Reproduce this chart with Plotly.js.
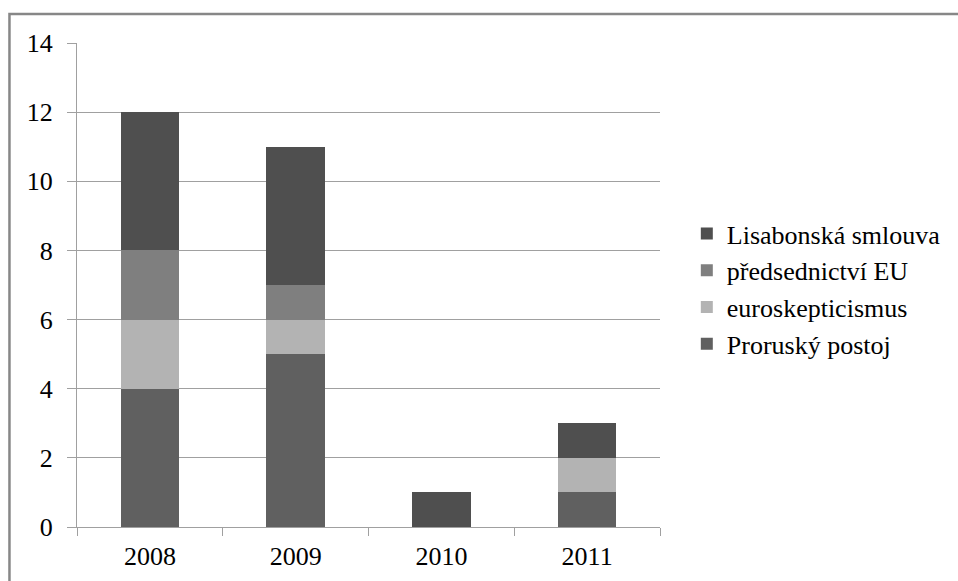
<!DOCTYPE html>
<html>
<head>
<meta charset="utf-8">
<script src="https://cdn.plot.ly/plotly-3.0.1.min.js"></script>
<style>
html,body{margin:0;padding:0;background:#fff;}
#chart{width:958px;height:581px;}
</style>
</head>
<body>
<div id="chart"></div>
<script>
const years = ['2008', '2009', '2010', '2011'];
const seriesNames = ['Proruský postoj', 'euroskepticismus', 'předsednictví EU', 'Lisabonská smlouva'];
const prorusky = [4, 5, 0, 1];
const euroskepticismus = [2, 1, 0, 1];
const predsednictvi = [2, 1, 0, 0];
const lisabonska = [4, 4, 1, 1];
const yTicks = [0, 2, 4, 6, 8, 10, 12, 14];

const colors = ['#606060', '#b3b3b3', '#7f7f7f', '#4f4f4f'];
const values = [prorusky, euroskepticismus, predsednictvi, lisabonska];

const traces = values.map((v, i) => ({
  type: 'bar',
  name: seriesNames[i],
  x: years,
  y: v,
  marker: {color: colors[i], line: {width: 0}},
  width: 0.4,
  hoverinfo: 'x+y+name'
}));

const W = 958, H = 581;
const m = {l: 77, r: 294, t: 43, b: 54};
const pw = W - m.l - m.r, ph = H - m.t - m.b;
const px = X => (X - m.l) / pw;
const py = Y => 1 - (Y - m.t) / ph;

const font = {family: 'Liberation Serif, DejaVu Serif, serif', size: 26, color: '#000'};

const layout = {
  width: W, height: H,
  margin: m,
  paper_bgcolor: '#fff',
  plot_bgcolor: '#fff',
  barmode: 'stack',
  font: font,
  showlegend: true,
  legend: {
    x: px(691), y: py(210), xanchor: 'left', yanchor: 'top',
    traceorder: 'reversed',
    font: {family: font.family, size: 26, color: '#000'},
    bgcolor: 'rgba(0,0,0,0)',
    itemwidth: 30
  },
  xaxis: {
    type: 'category',
    categoryorder: 'array',
    categoryarray: years,
    showgrid: false,
    showline: true,
    linecolor: '#a0a0a0',
    linewidth: 1,
    ticks: 'outside',
    tickson: 'boundaries',
    ticklen: 8,
    tickcolor: '#a0a0a0',
    ticklabelstandoff: 6,
    tickfont: font,
    zeroline: false,
    fixedrange: true
  },
  yaxis: {
    range: [0, 14],
    tickvals: yTicks,
    ticktext: yTicks.map(String),
    showgrid: true,
    gridcolor: '#a0a0a0',
    gridwidth: 1,
    showline: true,
    linecolor: '#a0a0a0',
    linewidth: 1,
    ticks: 'outside',
    ticklen: 9,
    tickcolor: '#a0a0a0',
    ticklabelstandoff: 9,
    tickfont: font,
    zeroline: false,
    fixedrange: true
  },
  shapes: [{
    type: 'rect', xref: 'paper', yref: 'paper',
    x0: px(9), x1: px(1000), y0: py(14), y1: py(640),
    line: {color: '#878787', width: 2.5},
    fillcolor: 'rgba(0,0,0,0)',
    layer: 'below'
  }]
};

Plotly.newPlot('chart', traces, layout, {displayModeBar: false, staticPlot: true});
</script>
</body>
</html>
